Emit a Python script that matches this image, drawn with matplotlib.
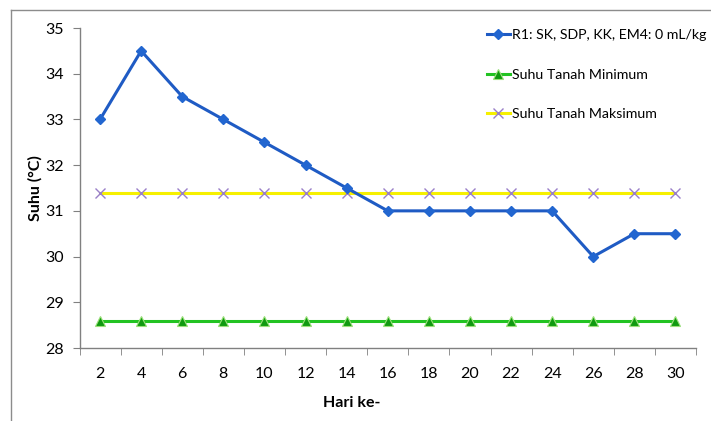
import matplotlib
matplotlib.use("Agg")
import matplotlib.pyplot as plt
from matplotlib.lines import Line2D
import numpy as np

plt.rcParams['font.family'] = ['Lato', 'DejaVu Sans']

days = [2, 4, 6, 8, 10, 12, 14, 16, 18, 20, 22, 24, 26, 28, 30]
r1 = [33, 34.5, 33.5, 33, 32.5, 32, 31.5, 31, 31, 31, 31, 31, 30, 30.5, 30.5]
soil_min = [28.6] * 15
soil_max = [31.4] * 15
y_ticks = [28, 29, 30, 31, 32, 33, 34, 35]

W, H = 711, 421
fig = plt.figure(figsize=(W / 100, H / 100), dpi=100)
ax = fig.add_axes([79.5 / W, 1 - 348 / H, (696 - 79.5) / W, (348 - 28) / H])

x = np.arange(len(days))
ax.plot(x, r1, color='#1F5BC4', lw=2.2, marker='D', ms=5, mfc='#2266D0', mec='#2266D0',
        label='R1: SK, SDP, KK, EM4: 0 mL/kg', zorder=4)
ax.plot(x, soil_min, color='#22C322', lw=2.2, marker='^', ms=7, mfc='#109A10', mec='#9BE07A',
        mew=0.8, label='Suhu Tanah Minimum', zorder=3)
ax.plot(x, soil_max, color='#F6F000', lw=2.2, marker='x', ms=7, mec='#9A80C8', mew=1.0,
        label='Suhu Tanah Maksimum', zorder=3)

ax.set_xlim(-0.5, len(days) - 0.5)
ax.set_ylim(28, 35)
ax.set_yticks(y_ticks)
ax.set_xticks(x)
ax.set_xticklabels([str(d) for d in days])
ax.set_xticks(np.arange(len(days) + 1) - 0.5, minor=True)
ax.tick_params(axis='x', which='major', length=0, pad=14, labelsize=11.5)
ax.tick_params(axis='x', which='minor', length=5, color='#808080', direction='out')
ax.tick_params(axis='y', length=5, color='#808080', direction='out', pad=6, labelsize=11.5)

for s in ['top', 'right']:
    ax.spines[s].set_visible(False)
for s in ['left', 'bottom']:
    ax.spines[s].set_color('#808080')
    ax.spines[s].set_linewidth(1.0)

ax.set_ylabel('Suhu (°C)', fontsize=11.5, fontweight='bold', labelpad=2)
fig.text(352 / W, 1 - 403 / H, 'Hari ke-', fontsize=11.5, fontweight='bold',
         ha='center', va='center')

fig.legend(loc='upper left', bbox_to_anchor=(487 / W, 1 - 29 / H), frameon=False,
           fontsize=10.2, handlelength=1.6, handletextpad=0.15, labelspacing=1.95,
           borderpad=0, borderaxespad=0)

# Outer frame edges
fig.add_artist(Line2D([11 / W, 11 / W], [0, 1 - 10 / H], color='#8C8C8C', lw=1.0))
fig.add_artist(Line2D([11 / W, 1], [1 - 10 / H, 1 - 10 / H], color='#8C8C8C', lw=1.0))

fig.savefig('out.png', dpi=100)
